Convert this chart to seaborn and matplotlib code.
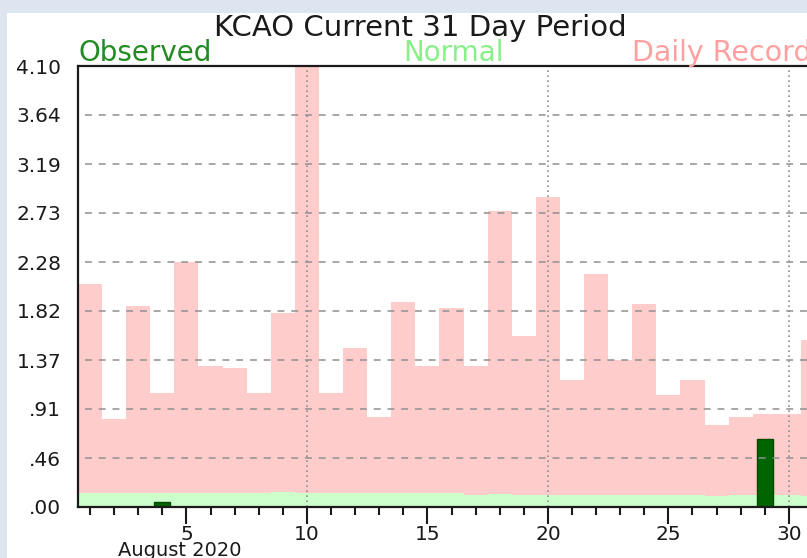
import matplotlib
matplotlib.use("Agg")
import matplotlib.pyplot as plt
from matplotlib.patches import Rectangle
import numpy as np
import pandas as pd
import seaborn as sns

# daily values, August 2020 (inches)
days = list(range(1, 32))
record = [2.07, 0.82, 1.87, 1.06, 2.28, 1.31, 1.29, 1.06, 1.80, 4.10,
          1.06, 1.48, 0.84, 1.91, 1.31, 1.85, 1.31, 2.75, 1.59, 2.88,
          1.18, 2.17, 1.37, 1.89, 1.04, 1.18, 0.76, 0.84, 0.86, 0.86, 1.55]
normal = [0.13, 0.13, 0.13, 0.13, 0.13, 0.13, 0.13, 0.13, 0.14, 0.13,
          0.13, 0.13, 0.13, 0.13, 0.13, 0.13, 0.11, 0.12, 0.11, 0.11,
          0.11, 0.11, 0.11, 0.11, 0.11, 0.11, 0.10, 0.11, 0.11, 0.11, 0.10]
observed = [0, 0, 0, 0.05, 0, 0, 0, 0, 0, 0,
            0, 0, 0, 0, 0, 0, 0, 0, 0, 0,
            0, 0, 0, 0, 0, 0, 0, 0, 0.63, 0, 0]

ytick_labels = ['.00', '.46', '.91', '1.37', '1.82', '2.28', '2.73', '3.19', '3.64', '4.10']
ymax = 4.10
xtick_major = [5, 10, 15, 20, 25, 30]

df = pd.DataFrame({'day': days, 'record': record, 'normal': normal, 'observed': observed})

W, H = 807, 558
fig = plt.figure(figsize=(W / 100, H / 100), dpi=100)
fig.patch.set_facecolor('#dce5f0')
fig.add_artist(Rectangle((7 / W, 0), 1, 1 - 13 / H, transform=fig.transFigure,
                         facecolor='white', edgecolor='none', zorder=0))

ax = fig.add_axes([78 / W, 51 / H, 747 / W, 441 / H])
ax.set_facecolor('white')

sns.barplot(data=df, x='day', y='record', native_scale=True, width=1, color='#ffcccc',
            saturation=1, linewidth=0, errorbar=None, ax=ax)
sns.barplot(data=df, x='day', y='normal', native_scale=True, width=1, color='#ccffcc',
            saturation=1, linewidth=0, errorbar=None, ax=ax)
sns.barplot(data=df, x='day', y='observed', native_scale=True, width=0.66, color='#006400',
            saturation=1, edgecolor='#004a00', linewidth=1, errorbar=None, ax=ax)

ax.set_xlim(0.5, 31.5)
ax.set_ylim(0, ymax)
ax.set_xlabel('')
ax.set_ylabel('')

yticks = np.linspace(0, ymax, len(ytick_labels))
ax.set_yticks(yticks)
ax.set_yticklabels(ytick_labels)
ax.set_xticks(xtick_major)
ax.set_xticks(days, minor=True)
ax.tick_params(axis='x', which='major', length=12, width=1.5, labelsize=14.5, pad=1, colors='#1a1a1a')
ax.tick_params(axis='x', which='minor', length=6, width=1.5, color='#1a1a1a')
ax.tick_params(axis='y', length=0, pad=12, labelsize=14.5, colors='#1a1a1a')

# grid lines
for yv in yticks[1:-1]:
    ax.axhline(yv, xmin=0.01, color='#8f8f8f', linestyle=(0, (4.5, 4.5)), linewidth=1.1)
for xv in [10, 20, 30]:
    ax.axvline(xv, color='#8f8f8f', linestyle=(0, (1, 2)), linewidth=1.2)

for s in ['left', 'top', 'bottom', 'right']:
    ax.spines[s].set_color('#1a1a1a')
    ax.spines[s].set_linewidth(1.6)

fig.text(420 / W, 1 - 36 / H, 'KCAO Current 31 Day Period', ha='center', va='baseline',
         fontsize=21, color='#1a1a1a')
fig.text(78 / W, 1 - 61 / H, 'Observed', ha='left', va='baseline', fontsize=20, color='#228b22')
fig.text(403 / W, 1 - 61 / H, 'Normal', ha='left', va='baseline', fontsize=20, color='#88f088')
fig.text(632 / W, 1 - 61 / H, 'Daily Record', ha='left', va='baseline', fontsize=20.5, color='#ffa0a0')
fig.text(180 / W, 1 - 541 / H, 'August 2020', ha='center', va='top', fontsize=14, color='#1a1a1a')

fig.savefig('out.png', dpi=100, facecolor=fig.get_facecolor())
